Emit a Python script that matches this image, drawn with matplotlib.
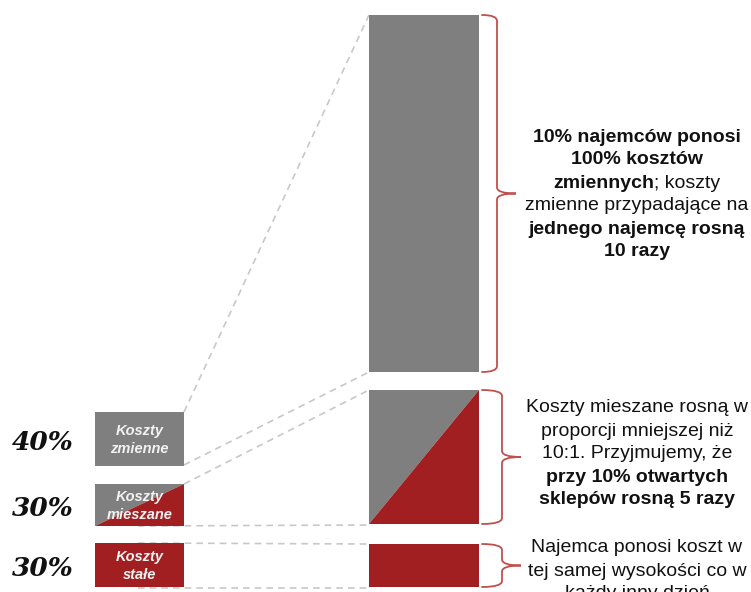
"""Schemat: jak rosna koszty najemcy przy 10% otwartych sklepow"""

import matplotlib.pyplot as plt
from matplotlib.patches import Rectangle, Polygon, PathPatch
from matplotlib.path import Path

# dane
categories = ['Koszty\nzmienne', 'Koszty\nmieszane', 'Koszty\nstałe']
shares = ['40%', '30%', '30%']
growth = [10, 5, 1]          # ile razy rosnie koszt na najemce
kinds = ['gray', 'split', 'red']

notes = [
    [[('10% najemców ponosi', 'bold')],
     [('100% kosztów', 'bold')],
     [('zmiennych', 'bold'), ('; koszty', 'normal')],
     [('zmienne przypadające na', 'normal')],
     [('jednego najemcę rosną', 'bold')],
     [('10 razy', 'bold')]],
    [[('Koszty mieszane rosną w', 'normal')],
     [('proporcji mniejszej niż', 'normal')],
     [('10:1. Przyjmujemy, że', 'normal')],
     [('przy 10% otwartych', 'bold')],
     [('sklepów rosną 5 razy', 'bold')]],
    [[('Najemca ponosi koszt w', 'normal')],
     [('tej samej wysokości co w', 'normal')],
     [('każdy inny dzień', 'normal')]],
]

GRAY = '#7f7f7f'
RED = '#a11f21'
BRACE = '#c0504d'
DASH = '#c8c8c8'

# uklad (w pikselach obrazka)
left_x, left_w = 95, 89
left_top = [412, 484, 543]
left_h = [54, 42, 44]
right_x, right_w = 369, 110
right_top = [15, 390, 544]
right_h = [357, 134, 43]
note_top = [137, 408, 548]

fig = plt.figure(figsize=(7.51, 5.92), dpi=100)
ax = fig.add_axes([0, 0, 1, 1])
ax.set_xlim(0, 751)
ax.set_ylim(592, 0)
ax.axis('off')


def box(x, y, w, h, kind):
    if kind == 'split':
        ax.add_patch(Polygon([(x, y), (x + w, y), (x, y + h)], closed=True,
                             facecolor=GRAY, edgecolor='none', zorder=2))
        ax.add_patch(Polygon([(x + w, y), (x + w, y + h), (x, y + h)],
                             closed=True, facecolor=RED, edgecolor='none',
                             zorder=2))
    else:
        ax.add_patch(Rectangle((x, y), w, h, edgecolor='none', zorder=2,
                               facecolor=GRAY if kind == 'gray' else RED))


def brace(x0, y0, y1, xv, xt):
    ym = (y0 + y1) / 2
    r = 6
    verts = [(x0, y0), (xv, y0), (xv, y0 + r),
             (xv, ym - r), (xv, ym), (xt, ym),
             (xv, ym), (xv, ym + r),
             (xv, y1 - r), (xv, y1), (x0, y1)]
    codes = [Path.MOVETO, Path.CURVE3, Path.CURVE3,
             Path.LINETO, Path.CURVE3, Path.CURVE3,
             Path.CURVE3, Path.CURVE3,
             Path.LINETO, Path.CURVE3, Path.CURVE3]
    ax.add_patch(PathPatch(Path(verts, codes), facecolor='none',
                           edgecolor=BRACE, lw=1.3, capstyle='round'))


fig.canvas.draw()
renderer = fig.canvas.get_renderer()


def rich_line(xc, y, parts, size=14):
    # tekst z mieszanymi grubosciami, wysrodkowany na xc
    texts = []
    for s, w in parts:
        texts.append(ax.text(0, y, s, fontsize=size, fontweight=w,
                             family='Liberation Sans', va='center',
                             ha='left', color='#111111'))
    widths = [t.get_window_extent(renderer).width for t in texts]
    x = xc - sum(widths) / 2
    for t, wd in zip(texts, widths):
        t.set_x(x)
        x += wd


for i in range(3):
    box(left_x, left_top[i], left_w, left_h[i], kinds[i])
    box(right_x, right_top[i], right_w, right_h[i], kinds[i])
    ax.text(left_x + left_w / 2, left_top[i] + left_h[i] / 2 + 1,
            categories[i], ha='center', va='center', color='#f2f2f2',
            fontsize=10.5, fontweight='bold', style='italic',
            family='Liberation Sans', linespacing=1.3, zorder=3)
    ax.text(12, left_top[i] + left_h[i] / 2 + 3, shares[i], ha='left',
            va='center', fontsize=19, fontweight='bold', style='italic',
            family='DejaVu Serif', color='#111111')
    brace(482, right_top[i], right_top[i] + right_h[i],
          497 if i == 0 else 502, 516 if i == 0 else 521)
    for j, parts in enumerate(notes[i]):
        rich_line(637, note_top[i] + 23 * j, parts)

# linie laczace (przerywane)
dkw = dict(color=DASH, lw=1.2, ls=(0, (4, 3)), zorder=1)
ax.plot([184, 369], [412, 15], **dkw)
ax.plot([184, 369], [465, 372], **dkw)
ax.plot([184, 369], [484, 390], **dkw)
ax.plot([138, 369], [526, 525], **dkw)
ax.plot([138, 369], [543, 544], **dkw)
ax.plot([138, 369], [588, 588], **dkw)

fig.savefig('out.png', dpi=100)
